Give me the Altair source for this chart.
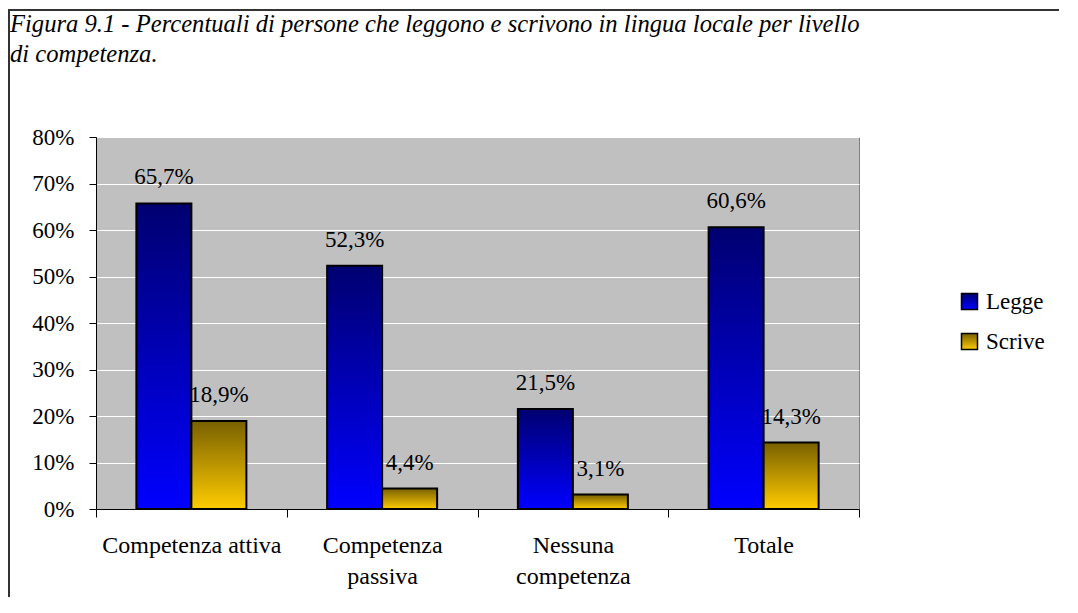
import altair as alt
import pandas as pd

categories = ["Competenza attiva", "Competenza passiva", "Nessuna competenza", "Totale"]
series = ["Legge", "Scrive"]
legge = [65.7, 52.3, 21.5, 60.6]
scrive = [18.9, 4.4, 3.1, 14.3]
y_ticks = [0, 10, 20, 30, 40, 50, 60, 70, 80]
title_lines = [
    "Figura 9.1 - Percentuali di persone che leggono e scrivono in lingua locale per livello",
    "di competenza.",
]

rows = []
for c, a, b in zip(categories, legge, scrive):
    rows.append({"cat": c, "serie": series[0], "value": a})
    rows.append({"cat": c, "serie": series[1], "value": b})
df = pd.DataFrame(rows)

FONT = "Times New Roman, Liberation Serif, serif"
W, H = 763, 372

grad_legge = ("{gradient: 'linear', x1: 0, y1: 0, x2: 0, y2: 1, stops: ["
              "{offset: 0, color: '#000070'}, {offset: 1, color: '#0000FF'}]}")
grad_scrive = ("{gradient: 'linear', x1: 0, y1: 0, x2: 0, y2: 1, stops: ["
               "{offset: 0, color: '#786000'}, {offset: 1, color: '#FFCC00'}]}")

x_enc = alt.X(
    "cat:N",
    sort=categories,
    scale=alt.Scale(paddingInner=0, paddingOuter=0),
    axis=alt.Axis(
        title=None,
        labelAngle=0,
        labelFont=FONT,
        labelFontSize=24,
        labelColor="black",
        labelLineHeight=31,
        labelPadding=16,
        labelExpr="datum.label == 'Competenza attiva' ? datum.label : split(datum.label, ' ')",
        tickBand="extent",
        tickSize=8,
        tickColor="black",
        domainColor="black",
        grid=False,
    ),
)
xoff_enc = alt.XOffset(
    "serie:N", sort=series, scale=alt.Scale(paddingInner=0, paddingOuter=0.734)
)
y_enc = alt.Y(
    "value:Q",
    scale=alt.Scale(domain=[0, 80], nice=False),
    axis=alt.Axis(
        title=None,
        values=y_ticks,
        labelExpr="datum.value + '%'",
        labelFont=FONT,
        labelFontSize=23,
        labelColor="black",
        labelPadding=15,
        tickSize=7,
        tickColor="black",
        domainColor="black",
        grid=True,
        gridColor="white",
        gridWidth=1,
    ),
)

base = alt.Chart(df)

bars = base.mark_bar(stroke="black", strokeWidth=2).encode(
    x=x_enc,
    xOffset=xoff_enc,
    y=y_enc,
    color=alt.Color(
        "serie:N",
        sort=series,
        scale=alt.Scale(
            domain=series,
            range=[alt.ExprRef(expr=grad_legge), alt.ExprRef(expr=grad_scrive)],
        ),
        legend=alt.Legend(
            title=None,
            orient="none",
            legendX=862,
            legendY=153,
            symbolType="square",
            symbolSize=256,
            symbolStrokeColor="black",
            symbolStrokeWidth=1.5,
            labelFont=FONT,
            labelFontSize=23,
            labelColor="black",
            labelOffset=5,
            rowPadding=16,
        ),
    ),
)

labels = base.transform_calculate(
    lab="replace(format(datum.value, '.1f'), '.', ',') + '%'"
).mark_text(
    baseline="alphabetic", dy=-19, font=FONT, fontSize=23, color="black"
).encode(
    x=alt.X("cat:N", sort=categories),
    xOffset=alt.XOffset("serie:N", sort=series),
    y=alt.Y("value:Q"),
    text="lab:N",
)

frame_left = alt.Chart(alt.Data(values=[{}])).mark_rule(
    color="#333333", strokeWidth=2
).encode(x=alt.value(-87), y=alt.value(-128), y2=alt.value(H + 200))
frame_top = alt.Chart(alt.Data(values=[{}])).mark_rule(
    color="#333333", strokeWidth=2
).encode(x=alt.value(-88), x2=alt.value(W + 300), y=alt.value(-127))

chart = alt.layer(frame_left, frame_top, bars, labels).properties(
    width=W,
    height=H,
    background="white",
    autosize=alt.AutoSizeParams(type="none"),
    padding={"left": 88, "top": 129, "right": 200, "bottom": 88},
    title=alt.TitleParams(
        text=title_lines,
        anchor="start",
        frame="group",
        dx=-86,
        dy=60,
        font=FONT,
        fontStyle="italic",
        fontWeight="normal",
        fontSize=24.6,
        lineHeight=30,
        color="black",
        offset=0,
    ),
).configure_view(
    fill="#C0C0C0", stroke="#808080", strokeWidth=1
)

chart.save("out.html", embed_options={"renderer": "svg", "actions": False})
